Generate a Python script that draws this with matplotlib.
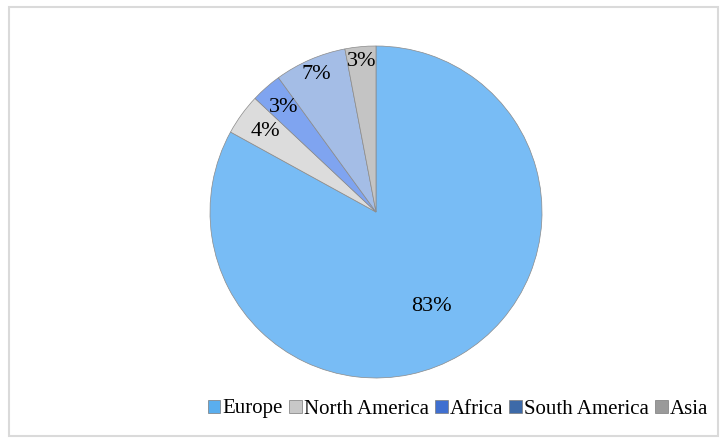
import matplotlib
matplotlib.use("Agg")
import matplotlib.pyplot as plt
from matplotlib.patches import Rectangle
import numpy as np

categories = ["Europe", "North America", "Africa", "South America", "Asia"]
values = [83, 4, 3, 7, 3]
colors = ["#78bcf5", "#dcdcdc", "#7fa4f0", "#a4bde6", "#c4c4c4"]
label_r = [0.66, 0.82, 0.84, 0.9, 0.91]

plt.rcParams['font.family'] = ['Liberation Serif', 'DejaVu Serif']

fig = plt.figure(figsize=(7.27, 4.43), dpi=100)
fig.patches.append(Rectangle((9 / 727, 1 - 436 / 443), 709 / 727, 429 / 443,
                             transform=fig.transFigure, facecolor="none", edgecolor="#dadada",
                             lw=1.5, zorder=-1))
ax = fig.add_axes([(376 - 166) / 727, 1 - (212 + 166) / 443, 332 / 727, 332 / 443])
wedges, texts, autotexts = ax.pie(values, colors=colors, startangle=90, counterclock=False,
                                  autopct="%1.0f%%", pctdistance=0.8,
                                  wedgeprops=dict(edgecolor="#8a8a8a", linewidth=0.5),
                                  textprops=dict(fontsize=16, color="black"))
for w, t, r in zip(wedges, autotexts, label_r):
    ang = np.deg2rad((w.theta1 + w.theta2) / 2)
    t.set_position((r * np.cos(ang), r * np.sin(ang)))
ax.set_aspect("equal")
ax.set_xlim(-1, 1)
ax.set_ylim(-1, 1)

handles = [plt.Rectangle((0, 0), 1, 1, facecolor=c, edgecolor="#7a7a7a", lw=0.5) for c in
           ["#5aaeee", "#c8c8c8", "#3f6fd0", "#3d6aa8", "#9a9a9a"]]
fig.legend(handles, categories, loc="center", bbox_to_anchor=(458 / 727, 1 - 409 / 443), ncol=5,
           frameon=False, fontsize=15, handlelength=0.6, handleheight=0.6, handletextpad=0.1,
           columnspacing=0.3, borderpad=0)
fig.savefig("out.png", dpi=100)
